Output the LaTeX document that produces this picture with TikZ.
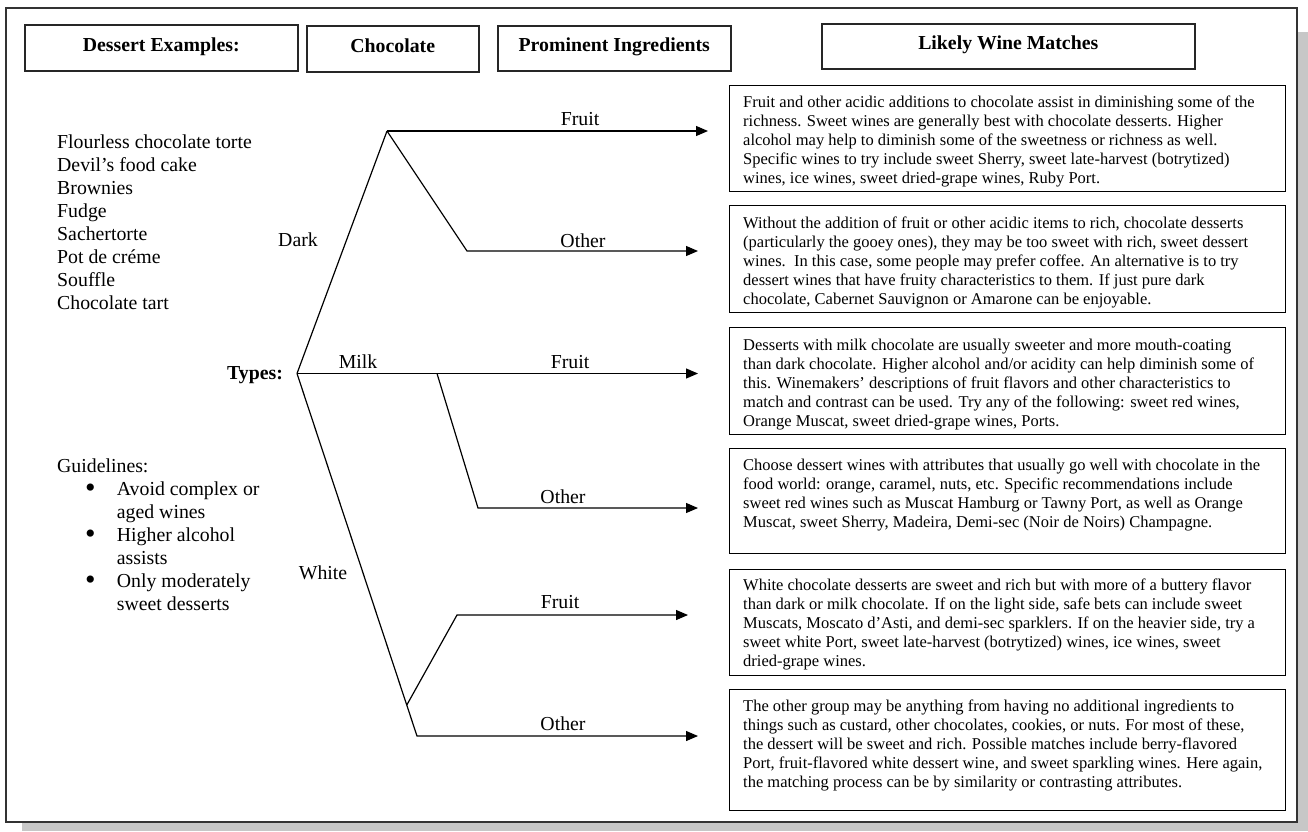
\documentclass[tikz,border=0pt]{standalone}
\usepackage{fontspec}
\setmainfont{Liberation Serif}
\usetikzlibrary{arrows.meta}
\newcommand{\mlines}[1]{\begin{tabular}[t]{@{}l@{}}#1\end{tabular}}
\newcommand{\bul}[1]{\hspace*{28pt}\makebox[31.7pt][l]{\raisebox{-2.5pt}{\fontsize{30}{23}\selectfont •}}#1}
\newcommand{\cont}[1]{\hspace*{59.7pt}#1}
\begin{document}
\begin{tikzpicture}[x=1pt,y=-1pt,
  hdrbox/.style={draw=black!85, line width=1.5pt, anchor=north west, inner sep=0pt,
     text height=12pt, text depth=5pt, font=\bfseries\fontsize{19.8}{23}\selectfont},
  wbox/.style={draw=black, line width=1.3pt, anchor=north west, inner sep=0pt},
  desc/.style={anchor=base west, inner sep=0pt, font=\fontsize{16.5}{19}\selectfont},
  lst/.style={anchor=base west, inner sep=0pt, font=\fontsize{19.8}{23}\selectfont},
  lbl/.style={anchor=base, inner sep=0pt, font=\fontsize{19.8}{23}\selectfont},
  conn/.style={line width=1.2pt, black},
  arr/.style={conn, -{Triangle[length=12pt,width=10pt]}}]
\useasboundingbox (0,0) rectangle (1308,831);
% shadow and frame
\fill[black!22] (22,32) rectangle (1308,831);
\draw[fill=white, line width=1.5pt, draw=black!80] (6,8) rectangle (1297,822);

% header boxes
\node[hdrbox, minimum width=273pt, minimum height=46pt] (h1) at (24,24) {Dessert Examples:};
\node[hdrbox, minimum width=172pt, minimum height=46pt] (h2) at (306,25) {Chocolate};
\node[hdrbox, minimum width=233pt, minimum height=45pt] (h3) at (497,25) {Prominent Ingredients};
\node[hdrbox, minimum width=373pt, minimum height=45pt] (h4) at (821,23) {Likely Wine Matches};

% left texts
\node[lst] (ex) at (57,148) {\mlines{Flourless chocolate torte\\Devil’s food cake\\Brownies\\Fudge\\Sachertorte\\Pot de créme\\Souffle\\Chocolate tart}};
\node[lst] (gl) at (57,472) {\mlines{Guidelines:\\
\bul{Avoid complex or}\\
\cont{aged wines}\\
\bul{Higher alcohol}\\
\cont{assists}\\
\bul{Only moderately}\\
\cont{sweet desserts}}};

% tree points
\coordinate (A) at (387,131);
\coordinate (T) at (297,373.5);
\coordinate (DO) at (467,251);
\coordinate (M) at (437,373.5);
\coordinate (MO) at (478,508);
\coordinate (W) at (406.8,705);
\coordinate (WF) at (457,615);
\coordinate (WO) at (417,736);
\coordinate (e1) at (708,131);
\coordinate (e2) at (698,251);
\coordinate (e3) at (698,373.5);
\coordinate (e4) at (698,508);
\coordinate (e5) at (688,615);
\coordinate (e6) at (698,736);

\draw[conn] (T) -- (A);
\draw[arr] (A) -- (e1);
\draw[arr] (A) -- (DO) -- (e2);
\draw[arr] (T) -- (e3);
\draw[arr] (M) -- (MO) -- (e4);
\draw[arr] (T) -- (WO) -- (e6);
\draw[arr] (W) -- (WF) -- (e5);

% tree labels
\node[lbl] (ldark) at (298,246.5) {Dark};
\node[lbl] (lmilk) at (358,368) {Milk};
\node[lbl, font=\bfseries\fontsize{19.8}{23}\selectfont] (ltypes) at (255,379.5) {Types:};
\node[lbl] (lwhite) at (323,579.5) {White};
\node[lbl] (f1) at (580,125.5) {Fruit};
\node[lbl] (o1) at (583,247) {Other};
\node[lbl] (f2) at (570,368) {Fruit};
\node[lbl] (o2) at (563,503.5) {Other};
\node[lbl] (f3) at (560,608.5) {Fruit};
\node[lbl] (o3) at (563,730) {Other};

% right boxes
\node[wbox, minimum width=556pt, minimum height=106pt] (b1) at (729,85) {};
\node[wbox, minimum width=556pt, minimum height=107pt] (b2) at (729,205) {};
\node[wbox, minimum width=556pt, minimum height=107pt] (b3) at (729,327) {};
\node[wbox, minimum width=556pt, minimum height=105pt] (b4) at (729,448) {};
\node[wbox, minimum width=556pt, minimum height=106pt] (b5) at (729,569) {};
\node[wbox, minimum width=556pt, minimum height=121pt] (b6) at (729,689) {};

\node[desc] (t1) at (743,107) {\mlines{Fruit and other acidic additions to chocolate assist in diminishing some of the\\
richness. Sweet wines are generally best with chocolate desserts. Higher\\
alcohol may help to diminish some of the sweetness or richness as well.\\
Specific wines to try include sweet Sherry, sweet late-harvest (botrytized)\\
wines, ice wines, sweet dried-grape wines, Ruby Port.}};
\node[desc] (t2) at (743,228) {\mlines{Without the addition of fruit or other acidic items to rich, chocolate desserts\\
(particularly the gooey ones), they may be too sweet with rich, sweet dessert\\
wines.\ \ In this case, some people may prefer coffee. An alternative is to try\\
dessert wines that have fruity characteristics to them. If just pure dark\\
chocolate, Cabernet Sauvignon or Amarone can be enjoyable.}};
\node[desc] (t3) at (743,350) {\mlines{Desserts with milk chocolate are usually sweeter and more mouth-coating\\
than dark chocolate. Higher alcohol and/or acidity can help diminish some of\\
this. Winemakers’ descriptions of fruit flavors and other characteristics to\\
match and contrast can be used. Try any of the following: sweet red wines,\\
Orange Muscat, sweet dried-grape wines, Ports.}};
\node[desc] (t4) at (743,470) {\mlines{Choose dessert wines with attributes that usually go well with chocolate in the\\
food world: orange, caramel, nuts, etc. Specific recommendations include\\
sweet red wines such as Muscat Hamburg or Tawny Port, as well as Orange\\
Muscat, sweet Sherry, Madeira, Demi-sec (Noir de Noirs) Champagne.}};
\node[desc] (t5) at (743,590) {\mlines{White chocolate desserts are sweet and rich but with more of a buttery flavor\\
than dark or milk chocolate. If on the light side, safe bets can include sweet\\
Muscats, Moscato d’Asti, and demi-sec sparklers. If on the heavier side, try a\\
sweet white Port, sweet late-harvest (botrytized) wines, ice wines, sweet\\
dried-grape wines.}};
\node[desc] (t6) at (743,711) {\mlines{The other group may be anything from having no additional ingredients to\\
things such as custard, other chocolates, cookies, or nuts. For most of these,\\
the dessert will be sweet and rich. Possible matches include berry-flavored\\
Port, fruit-flavored white dessert wine, and sweet sparkling wines. Here again,\\
the matching process can be by similarity or contrasting attributes.}};
\end{tikzpicture}
\end{document}
